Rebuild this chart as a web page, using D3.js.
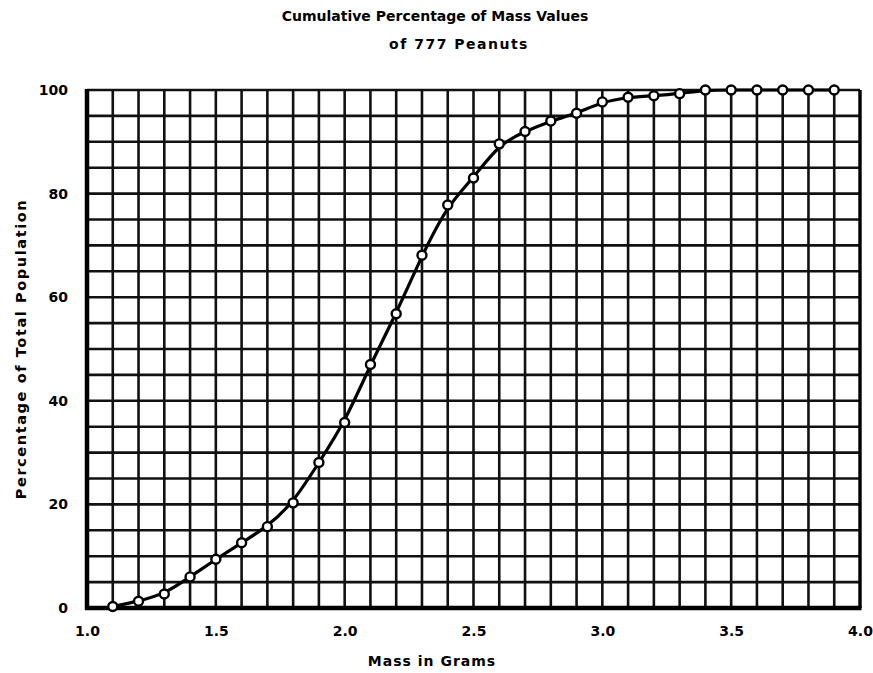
<!DOCTYPE html>
<html>
<head>
<meta charset="utf-8">
<script src="https://cdn.jsdelivr.net/npm/d3@7"></script>
<style>
  html, body { margin: 0; padding: 0; background: #fff; }
  svg text { font-family: "DejaVu Sans", sans-serif; font-weight: bold; fill: #000; }
</style>
</head>
<body>
<svg id="chart" width="873" height="673"></svg>
<script>
// ---- data ----
const massValues = [1.1, 1.2, 1.3, 1.4, 1.5, 1.6, 1.7, 1.8, 1.9, 2.0,
                    2.1, 2.2, 2.3, 2.4, 2.5, 2.6, 2.7, 2.8, 2.9, 3.0,
                    3.1, 3.2, 3.3, 3.4, 3.5, 3.6, 3.7, 3.8, 3.9];
const cumulativePercent = [0.3, 1.3, 2.7, 6, 9.4, 12.6, 15.7, 20.3, 28.1, 35.8,
                           47, 56.8, 68.1, 77.8, 83, 89.6, 92, 94, 95.5, 97.7,
                           98.6, 98.9, 99.3, 100, 100, 100, 100, 100, 100];
const xTickValues = [1.0, 1.5, 2.0, 2.5, 3.0, 3.5, 4.0];
const xTickLabels = ["1.0", "1.5", "2.0", "2.5", "3.0", "3.5", "4.0"];
const yTickValues = [0, 20, 40, 60, 80, 100];
const yTickLabels = ["0", "20", "40", "60", "80", "100"];
const xGridStep = 0.1;
const yGridStep = 5;
const titleLines = ["Cumulative Percentage of Mass Values", "of 777 Peanuts"];
const xTitle = "Mass in Grams";
const yTitle = "Percentage of Total Population";

// ---- layout ----
const svg = d3.select("#chart");
const mLeft = 87, mRight = 860, mTop = 90, mBottom = 608;
const x = d3.scaleLinear().domain([1.0, 4.0]).range([mLeft, mRight]);
const y = d3.scaleLinear().domain([0, 100]).range([mBottom, mTop]);

// grid
const xGrid = d3.range(0, Math.round((4.0 - 1.0) / xGridStep) + 1).map(i => +(1.0 + i * xGridStep).toFixed(2));
const yGrid = d3.range(0, 100 / yGridStep + 1).map(i => i * yGridStep);
const grid = svg.append("g");
grid.selectAll("line.v").data(xGrid).join("line").attr("class", "v")
  .attr("x1", d => x(d)).attr("x2", d => x(d))
  .attr("y1", y(0)).attr("y2", y(100))
  .attr("stroke", "#111").attr("stroke-width", 2.6);
grid.selectAll("line.h").data(yGrid).join("line").attr("class", "h")
  .attr("y1", d => y(d)).attr("y2", d => y(d))
  .attr("x1", x(1.0)).attr("x2", x(4.0))
  .attr("stroke", "#111").attr("stroke-width", 2.6);

// axes borders (left, bottom heavier)
svg.append("line").attr("x1", x(1.0)).attr("x2", x(1.0)).attr("y1", y(100) - 1).attr("y2", y(0) + 2)
  .attr("stroke", "#000").attr("stroke-width", 4.5);
svg.append("line").attr("x1", x(1.0) - 2).attr("x2", x(4.0) + 1.5).attr("y1", y(0)).attr("y2", y(0))
  .attr("stroke", "#000").attr("stroke-width", 4.5);
svg.append("line").attr("x1", x(4.0)).attr("x2", x(4.0)).attr("y1", y(100)).attr("y2", y(0))
  .attr("stroke", "#000").attr("stroke-width", 3.2);

// axis labels via d3 axes (tick lines hidden)
const xAxis = d3.axisBottom(x).tickValues(xTickValues).tickFormat((d, i) => xTickLabels[i]).tickSize(0).tickPadding(18);
const gx = svg.append("g").attr("transform", `translate(0,${mBottom})`).call(xAxis);
gx.select(".domain").remove();
gx.selectAll("text").style("font-size", "14px").style("font-family", "DejaVu Sans").style("font-weight", "bold");

const yAxis = d3.axisLeft(y).tickValues(yTickValues).tickFormat((d, i) => yTickLabels[i]).tickSize(0).tickPadding(19);
const gy = svg.append("g").attr("transform", `translate(${mLeft},0)`).call(yAxis);
gy.select(".domain").remove();
gy.selectAll("text").style("font-size", "14px").style("font-family", "DejaVu Sans").style("font-weight", "bold");

// curve
const line = d3.line().x((d, i) => x(massValues[i])).y(d => y(d)).curve(d3.curveBasis);
svg.append("path").datum(cumulativePercent).attr("d", line)
  .attr("fill", "none").attr("stroke", "#000").attr("stroke-width", 3.2);

// points
svg.selectAll("circle.pt").data(cumulativePercent).join("circle").attr("class", "pt")
  .attr("cx", (d, i) => x(massValues[i])).attr("cy", d => y(d)).attr("r", 4.5)
  .attr("fill", "#fff").attr("stroke", "#000").attr("stroke-width", 2.4);

// titles
svg.append("text").attr("x", 435).attr("y", 21).attr("text-anchor", "middle")
  .style("font-size", "14px").text(titleLines[0]);
svg.append("text").attr("x", 459).attr("y", 49).attr("text-anchor", "middle")
  .style("font-size", "14px").style("letter-spacing", "1.5px").text(titleLines[1]);
svg.append("text").attr("x", 432).attr("y", 666).attr("text-anchor", "middle")
  .style("font-size", "14px").style("letter-spacing", "1px").text(xTitle);
svg.append("text").attr("transform", "translate(26,349) rotate(-90)").attr("text-anchor", "middle")
  .style("font-size", "14.5px").style("letter-spacing", "1.6px").text(yTitle);
</script>
</body>
</html>
